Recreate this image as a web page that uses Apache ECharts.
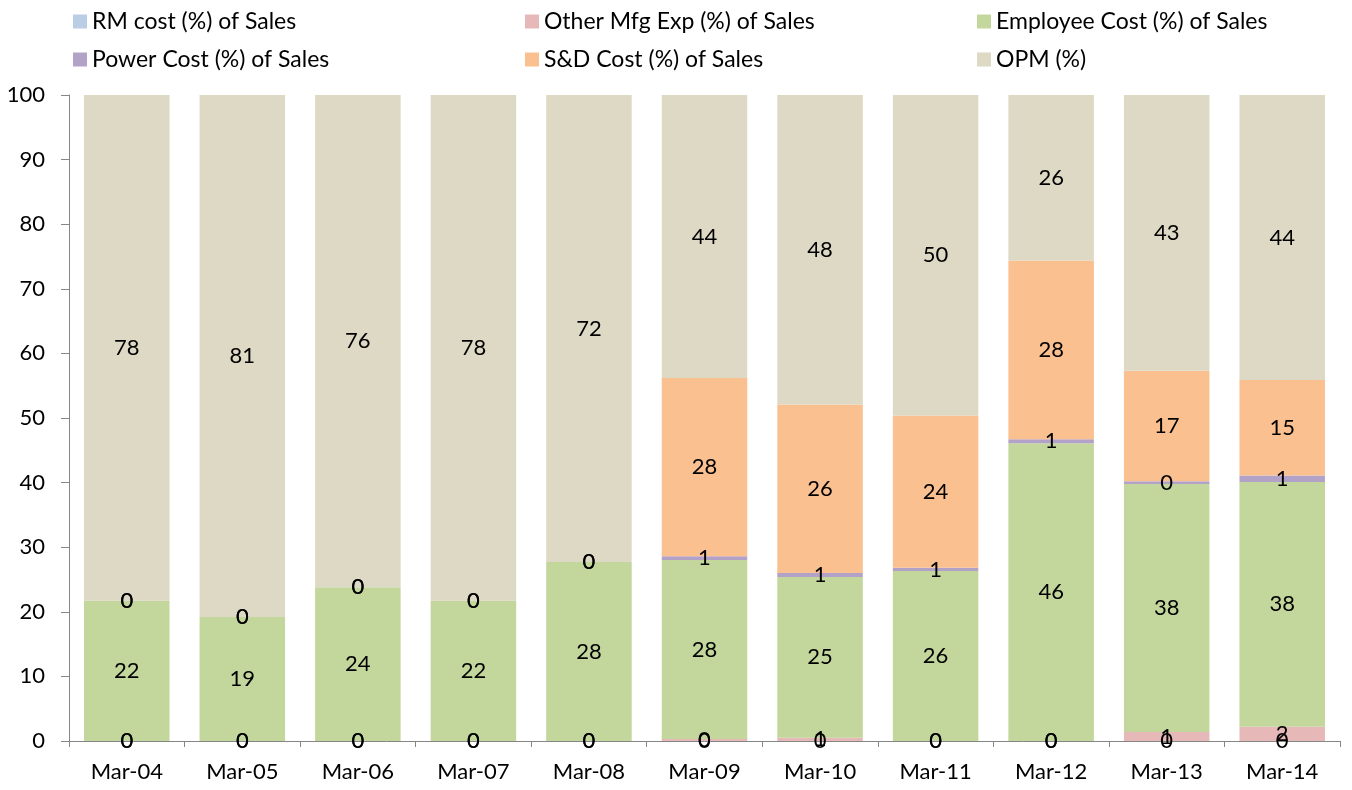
<!DOCTYPE html>
<html><head><meta charset="utf-8">
<script src="https://cdn.jsdelivr.net/npm/echarts@6/dist/echarts.min.js"></script>
<style>html,body{margin:0;padding:0;background:#fff}#c{width:1352px;height:790px}</style>
</head><body><div id="c"></div>
<script>
const categories = ['Mar-04','Mar-05','Mar-06','Mar-07','Mar-08','Mar-09','Mar-10','Mar-11','Mar-12','Mar-13','Mar-14'];
const rmCost     = [0,0,0,0,0,0,0,0,0,0,0];
const otherMfg   = [0,0,0,0,0,0.3,0.5,0,0,1.4,2.2];
const employee   = [21.7,19.2,23.8,21.7,27.7,27.7,24.9,26.3,46.1,38.4,37.9];
const power      = [0,0,0,0,0,0.6,0.6,0.5,0.6,0.4,1.0];
const sdCost     = [0,0,0,0,0,27.6,26.1,23.6,27.7,17.1,14.8];
const opm        = [78.3,80.8,76.2,78.3,72.3,43.8,47.9,49.6,25.6,42.7,44.1];
const yTicks = {min:0, max:100, interval:10};

const names = ['RM cost (%) of Sales','Other Mfg Exp (%) of Sales','Employee Cost (%) of Sales','Power Cost (%) of Sales','S&D Cost (%) of Sales','OPM (%)'];
const colors = ['#B9CDE5','#E6B9B8','#C3D69B','#B3A2C7','#FAC090','#DDD9C4'];
const datas = [rmCost, otherMfg, employee, power, sdCost, opm];
const FONT = 'Lato';

const series = names.map((n,i)=>({
  name:n, type:'bar', stack:'total', data:datas[i], barCategoryGap:'26%',
  itemStyle:{color:colors[i]},
  label:{show:true, position:'inside', color:'#000', fontFamily:FONT, fontSize:22,
    formatter:p=>Math.round(p.value)}
}));

const legendCol = (left, items) => ({
  orient:'vertical', left:left, top:5, itemGap:15, itemWidth:14, itemHeight:14,
  icon:'rect', data:items, textStyle:{fontFamily:FONT, fontSize:23, color:'#000'}, selectedMode:false
});

const chart = echarts.init(document.getElementById('c'));
chart.setOption({
  animation:false,
  textStyle:{fontFamily:FONT},
  legend:[
    legendCol(68,[names[0],names[3]]),
    legendCol(520,[names[1],names[4]]),
    legendCol(972,[names[2],names[5]])
  ],
  grid:{left:69, right:12, top:95, bottom:49},
  xAxis:{type:'category', data:categories,
    axisLine:{lineStyle:{color:'#868686'}},
    axisTick:{show:true, alignWithLabel:false, length:6, lineStyle:{color:'#868686'}},
    axisLabel:{color:'#000', fontFamily:FONT, fontSize:22, margin:20}},
  yAxis:{type:'value', min:yTicks.min, max:yTicks.max, interval:yTicks.interval,
    axisLine:{show:true, lineStyle:{color:'#868686'}},
    axisTick:{show:true, length:8, lineStyle:{color:'#868686'}},
    splitLine:{show:false},
    axisLabel:{color:'#000', fontFamily:FONT, fontSize:22, margin:24}},
  series:series
});
</script></body></html>
